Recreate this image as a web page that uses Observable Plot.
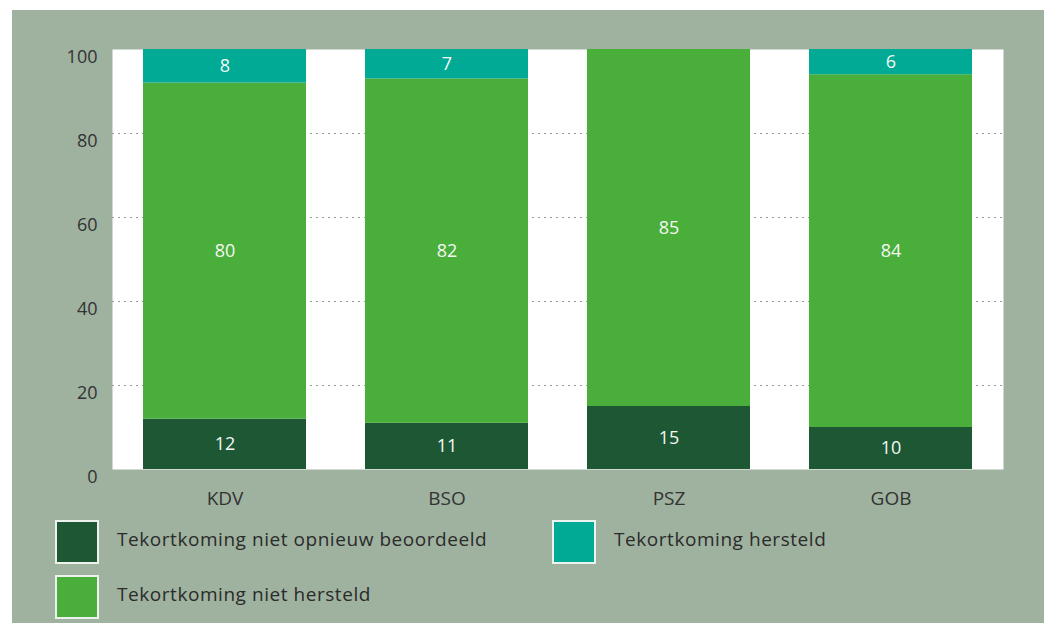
<!DOCTYPE html>
<html>
<head>
<meta charset="utf-8">
<script src="https://cdn.jsdelivr.net/npm/d3@7"></script>
<script src="https://cdn.jsdelivr.net/npm/@observablehq/plot@0.6"></script>
<style>
  html, body { margin: 0; padding: 0; background: #ffffff; }
  body { width: 1044px; height: 623px; overflow: hidden; position: relative; font-family: "Open Sans", sans-serif; }
  #panel { position: absolute; left: 12px; top: 10px; width: 1032px; height: 613px; background: #9fb29f; }
  #chart { position: absolute; left: 0; top: 0; }
  .legend-item { position: absolute; display: flex; align-items: center; font-size: 19px; letter-spacing: 0.55px; color: #2b2b2b; }
  .legend-item span { position: relative; top: -3px; }
  .swatch { width: 40px; height: 40px; border: 2px solid #eef2ee; box-sizing: content-box; margin-right: 18px; }
</style>
</head>
<body>
<div id="panel">
  <div id="chart"></div>
  <div id="legend"></div>
</div>
<script>
const categories = ["KDV", "BSO", "PSZ", "GOB"];
const seriesNames = ["Tekortkoming niet opnieuw beoordeeld", "Tekortkoming niet hersteld", "Tekortkoming hersteld"];
const seriesColors = ["#1e5734", "#4aae3a", "#00aa94"];
const nietOpnieuw = [12, 11, 15, 10];
const nietHersteld = [80, 82, 85, 84];
const hersteld = [8, 7, 0, 6];
const yTicks = [0, 20, 40, 60, 80, 100];
const gridValues = [20, 40, 60, 80];

const seriesValues = [nietOpnieuw, nietHersteld, hersteld];
const data = [];
categories.forEach((c, i) => {
  seriesValues.forEach((vals, s) => {
    data.push({cat: c, series: seriesNames[s], value: vals[i]});
  });
});

const chart = Plot.plot({
  width: 1032,
  height: 500,
  marginLeft: 100,
  marginRight: 41,
  marginTop: 39,
  marginBottom: 41,
  style: {fontFamily: "Open Sans, sans-serif", fontSize: "16px", color: "#333", background: "transparent", overflow: "visible"},
  x: {domain: categories, paddingInner: 0.267, paddingOuter: 0.135, label: null},
  y: {domain: [0, 100], label: null},
  color: {domain: seriesNames, range: seriesColors},
  marks: [
    Plot.frame({fill: "white", stroke: null}),
    Plot.ruleY(gridValues, {stroke: "#999", strokeWidth: 1.2, strokeDasharray: "2,4"}),
    Plot.barY(data, {x: "cat", y: "value", fill: "series", z: "series", inset: 0}),
    Plot.text(data, Plot.stackY({x: "cat", y: "value", z: "series", text: d => d.value > 0 ? String(d.value) : "", fill: "#f4f8f4", fontSize: 18, fontWeight: 500})),
    Plot.axisY(yTicks, {tickSize: 0, tickPadding: 15, dy: 8, fontSize: 18, fill: "#333", label: null}),
    Plot.axisX({tickSize: 0, tickPadding: 22, fontSize: 19, fill: "#333", label: null})
  ]
});
document.getElementById("chart").appendChild(chart);

const legendPos = [
  {left: 43, top: 510},
  {left: 43, top: 565},
  {left: 540, top: 510}
];
const legend = document.getElementById("legend");
seriesNames.forEach((name, i) => {
  const item = document.createElement("div");
  item.className = "legend-item";
  item.style.left = legendPos[i].left + "px";
  item.style.top = legendPos[i].top + "px";
  const sw = document.createElement("div");
  sw.className = "swatch";
  sw.style.background = seriesColors[i];
  const label = document.createElement("span");
  label.textContent = name;
  item.appendChild(sw);
  item.appendChild(label);
  legend.appendChild(item);
});
</script>
</body>
</html>
